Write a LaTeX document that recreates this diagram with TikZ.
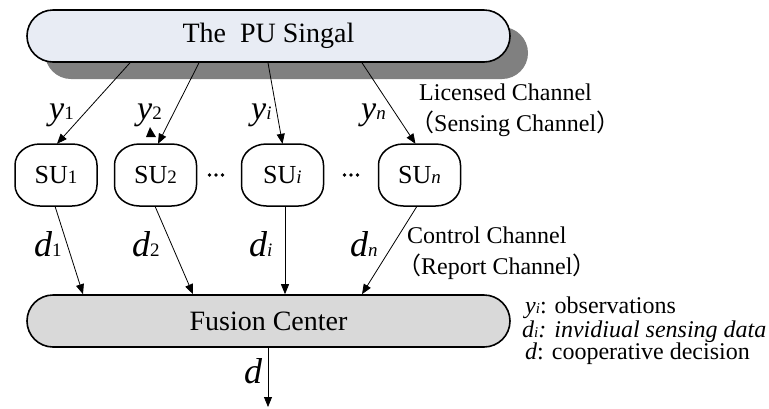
\documentclass[tikz,border=0pt]{standalone}
\usepackage{fontspec}
\setmainfont{Liberation Serif}
\newfontfamily\cjkfont{Noto Sans CJK SC}
\usetikzlibrary{arrows.meta,calc,shapes.misc}
\newcommand\fs[1]{\fontsize{#1}{#1}\selectfont}
\newcommand\subu[1]{{\fs{19}\upshape #1}}
\newcommand\subit[1]{{\fs{19}\itshape #1}}
\newcommand\suoutline[1]{%
  \draw[suborder,shift={(#1.center)},yscale=-1]
    (-16,31) -- (16,31) arc[start angle=90,end angle=0,x radius=25,y radius=21]
    -- (41,-10) arc[start angle=0,end angle=-90,x radius=25,y radius=21]
    -- (-16,-31) arc[start angle=270,end angle=180,x radius=25,y radius=21]
    -- (-41,10) arc[start angle=180,end angle=90,x radius=25,y radius=21] -- cycle;}
\definecolor{pufill}{RGB}{232,236,244}
\definecolor{shadowgray}{RGB}{128,128,128}
\definecolor{fcfill}{RGB}{217,217,217}
\begin{document}
\begin{tikzpicture}[x=1pt,y=-1pt,
  bigbox/.style={rounded rectangle,draw=black,line width=1.6pt,minimum width=483pt,minimum height=52pt,inner sep=0pt},
  subox/.style={minimum width=82pt,minimum height=62pt,inner sep=0pt,font=\fs{26}},
  suborder/.style={draw=black,line width=1.5pt},
  arr/.style={line width=0.8pt,-{Triangle[length=10pt,width=8pt]}},
  lab/.style={anchor=base west,inner sep=0pt},
  note/.style={anchor=base west,inner sep=0pt,font=\fs{24}},
  dotsnode/.style={circle,fill=black,inner sep=0pt,minimum size=3.8pt}]
\useasboundingbox (0,0) rectangle (769,408);
% PU signal with shadow
\node[bigbox,draw=none,fill=shadowgray] (pushadow) at (286.5,53) {};
\node[bigbox,fill=pufill,font=\fs{28}] (pu) at (268.5,36) {The\ \ PU Singal};
% SU nodes
\node[subox] (su1) at (56,175) {SU\subu{1}};
\node[subox] (su2) at (155.5,175) {SU\subu{2}};
\node[subox] (sui) at (282.5,175) {SU\subit{i}};
\node[subox] (sun) at (419.5,175) {SU\subit{n}};
\suoutline{su1}
\suoutline{su2}
\suoutline{sui}
\suoutline{sun}
% dots
\node[dotsnode] (d1a) at (209.5,175) {};
\node[dotsnode] (d1b) at (216,175) {};
\node[dotsnode] (d1c) at (222.5,175) {};
\node[dotsnode] (d2a) at (344.5,175) {};
\node[dotsnode] (d2b) at (351,175) {};
\node[dotsnode] (d2c) at (357.5,175) {};
% Fusion center
\node[bigbox,fill=fcfill,font=\fs{28}] (fc) at (268.5,321) {Fusion Center};
% sensing arrows
\draw[arr] ([xshift=-138.5pt]pu.south) -- ([xshift=1pt]su1.north);
\draw[arr] ([xshift=-69.5pt]pu.south) -- ([xshift=2.5pt]su2.north);
\draw[arr] ([xshift=-0.5pt]pu.south) -- (sui.north);
\draw[arr] ([xshift=93.5pt]pu.south) -- ([xshift=-4pt]sun.north);
\fill (146,137) -- (156,137) -- (150,127) -- cycle;
% report arrows
\draw[arr] ([xshift=-1pt]su1.south) -- ([xshift=-185.5pt]fc.north);
\draw[arr] ([xshift=-0.5pt]su2.south) -- ([xshift=-75.5pt]fc.north);
\draw[arr] ([xshift=2.5pt]sui.south) -- ([xshift=16.5pt]fc.north);
\draw[arr] ([xshift=-2.5pt]sun.south) -- ([xshift=93.5pt]fc.north);
\coordinate (out) at (268,407);
\draw[arr] (fc.south -| out) -- (out);
% y labels
\node[lab] (ly1) at (49,119) {\fs{34}\itshape y\subu{1}};
\node[lab] (ly2) at (137,119) {\fs{34}\itshape y\subu{2}};
\node[lab] (lyi) at (251,119) {\fs{34}\itshape y\subit{i}};
\node[lab] (lyn) at (361,119) {\fs{34}\itshape y\subit{n}};
% d labels
\node[lab] (ld1) at (34,256) {\fs{36}\itshape d\subu{1}};
\node[lab] (ld2) at (132,256) {\fs{36}\itshape d\subu{2}};
\node[lab] (ldi) at (249,256) {\fs{36}\itshape d\subit{i}};
\node[lab] (ldn) at (350,256) {\fs{36}\itshape d\subit{n}};
\node[lab] (ld) at (244,383) {\fs{36}\itshape d};
% channel notes
\node[note] (lic) at (419,100) {Licensed Channel};
\node[note] (sens) at (410,131) {{\cjkfont （}Sensing Channel{\cjkfont ）}};
\node[note] (ctrl) at (407,243) {Control Channel};
\node[note] (rep) at (397,274) {{\cjkfont （}Report Channel{\cjkfont ）}};
% legend
\node[note] (leg1) at (525,313) {{\itshape y}{\fs{15}\itshape i}: observations};
\node[note] (leg2) at (522,337) {\itshape d{\fs{15}i}: invidiual sensing data};
\node[note] (leg3) at (525,359) {{\itshape d}: cooperative decision};
\end{tikzpicture}
\end{document}
